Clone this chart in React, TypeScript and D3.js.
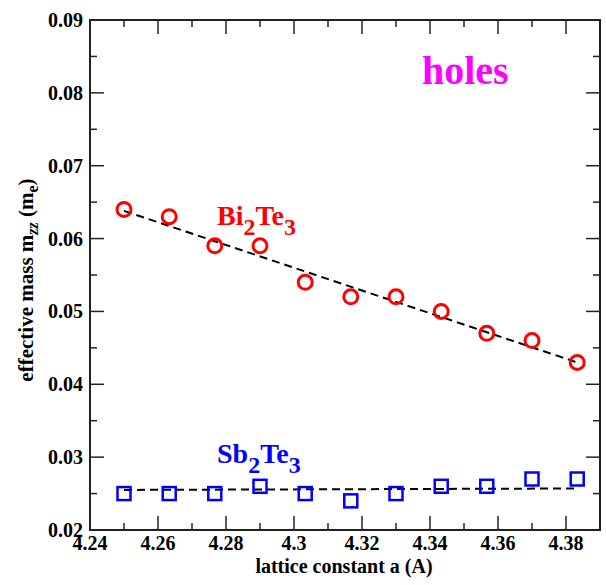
import React, { useEffect, useRef } from "react";
import * as d3 from "d3";

// lattice constants (A)
const latticeA = [4.25, 4.2633, 4.2767, 4.29, 4.3033, 4.3167, 4.33, 4.3433, 4.3567, 4.37, 4.3833];
// effective masses
const biMass = [0.064, 0.063, 0.059, 0.059, 0.054, 0.052, 0.052, 0.05, 0.047, 0.046, 0.043];
const sbMass = [0.025, 0.025, 0.025, 0.026, 0.025, 0.024, 0.025, 0.026, 0.026, 0.027, 0.027];
// linear fits (endpoints)
const biFit = [0.0638, 0.043];
const sbFit = [0.0255, 0.0257];
const xTicks = [4.24, 4.26, 4.28, 4.3, 4.32, 4.34, 4.36, 4.38];
const yTicks = [0.02, 0.03, 0.04, 0.05, 0.06, 0.07, 0.08, 0.09];

const App = () => {
  const svgRef = useRef<SVGSVGElement>(null);

  useEffect(() => {
    const svg = d3.select(svgRef.current);
    svg.selectAll("*").remove();

    const margin = { top: 20, right: 6, bottom: 55, left: 90 };
    const width = 600 - margin.left;
    const height = 530 - margin.top;
    const font = "Liberation Serif, Times New Roman, serif";

    const x = d3.scaleLinear().domain([4.24, 4.39]).range([0, width]);
    const y = d3.scaleLinear().domain([0.02, 0.09]).range([height, 0]);

    const g = svg.append("g").attr("transform", `translate(${margin.left},${margin.top})`);

    // ticks on all four sides, pointing inward
    const xMinor = d3.range(4.25, 4.39, 0.02);
    const yMinor = d3.range(0.025, 0.09, 0.01);
    const tickCol = "#222";
    const tick = (x1: number, y1: number, x2: number, y2: number) =>
      g.append("line").attr("x1", x1).attr("y1", y1).attr("x2", x2).attr("y2", y2).attr("stroke", tickCol).attr("stroke-width", 1.5);
    xTicks.forEach((t) => {
      tick(x(t), height, x(t), height - 14);
      tick(x(t), 0, x(t), 14);
    });
    xMinor.forEach((t) => {
      tick(x(t), height, x(t), height - 7);
      tick(x(t), 0, x(t), 7);
    });
    yTicks.forEach((t) => {
      tick(0, y(t), 14, y(t));
      tick(width, y(t), width - 14, y(t));
    });
    yMinor.forEach((t) => {
      tick(0, y(t), 7, y(t));
      tick(width, y(t), width - 7, y(t));
    });

    // frame
    g.append("rect").attr("width", width).attr("height", height).attr("fill", "none").attr("stroke", tickCol).attr("stroke-width", 2);

    // tick labels
    g.selectAll(".xl").data(xTicks).enter().append("text")
      .attr("x", (d) => x(d)).attr("y", height + 20).attr("text-anchor", "middle")
      .attr("font-family", font).attr("font-weight", "bold").attr("font-size", 20)
      .text((d) => String(+d.toFixed(2)));
    g.selectAll(".yl").data(yTicks).enter().append("text")
      .attr("x", -7).attr("y", (d) => y(d) + 7).attr("text-anchor", "end")
      .attr("font-family", font).attr("font-weight", "bold").attr("font-size", 20)
      .text((d) => d.toFixed(2));

    // axis titles
    g.append("text").attr("x", 254).attr("y", height + 43).attr("text-anchor", "middle")
      .attr("font-family", font).attr("font-weight", "bold").attr("font-size", 20)
      .text("lattice constant a (A)");
    const yl = svg.append("text").attr("transform", "translate(33,280) rotate(-90)").attr("text-anchor", "middle")
      .attr("font-family", font).attr("font-weight", "bold").attr("font-size", 21);
    yl.append("tspan").text("effective mass m");
    yl.append("tspan").attr("dy", 5).attr("font-size", 16).attr("font-style", "italic").text("zz");
    yl.append("tspan").attr("dy", -5).text(" (m");
    yl.append("tspan").attr("dy", 5).attr("font-size", 16).text("e");
    yl.append("tspan").attr("dy", -5).text(")");

    // fit lines
    const line = d3.line<number>().x((d, i) => x(i === 0 ? latticeA[0] : latticeA[latticeA.length - 1])).y((d) => y(d));
    [biFit, sbFit].forEach((f) => {
      g.append("path").datum(f).attr("d", line).attr("fill", "none").attr("stroke", "#000").attr("stroke-width", 2).attr("stroke-dasharray", "8,5");
    });

    // Bi2Te3 circles
    g.selectAll(".bi").data(biMass).enter().append("circle")
      .attr("cx", (d, i) => x(latticeA[i])).attr("cy", (d) => y(d)).attr("r", 7)
      .attr("fill", "none").attr("stroke", "#ff0000").attr("stroke-width", 3);

    // Sb2Te3 squares
    g.selectAll(".sb").data(sbMass).enter().append("rect")
      .attr("x", (d, i) => x(latticeA[i]) - 6.5).attr("y", (d) => y(d) - 6.5).attr("width", 13).attr("height", 13)
      .attr("fill", "none").attr("stroke", "#0000ff").attr("stroke-width", 2.5);

    // labels
    const addFormula = (px: number, py: number, a: string, color: string) => {
      const t = g.append("text").attr("x", px).attr("y", py).attr("font-family", font).attr("font-weight", "bold").attr("font-size", 28).attr("fill", color);
      t.append("tspan").text(a);
      t.append("tspan").attr("dy", 10).attr("font-size", 24).text("2");
      t.append("tspan").attr("dy", -10).text("Te");
      t.append("tspan").attr("dy", 10).attr("font-size", 24).text("3");
    };
    addFormula(127, 205, "Bi", "#ff0000");
    addFormula(127, 443, "Sb", "#0000ff");
    g.append("text").attr("x", 332).attr("y", 64).attr("font-family", font).attr("font-weight", "bold").attr("font-size", 40).attr("fill", "#ff00ff").text("holes");
  }, []);

  return (
    <svg ref={svgRef} width={606} height={585} style={{ display: "block", position: "absolute", left: 0, top: 0, background: "#fff" }}></svg>
  );
};

export default App;
